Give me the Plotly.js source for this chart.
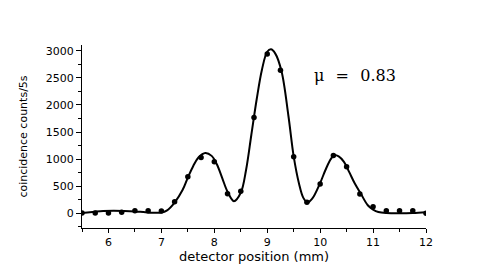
<!DOCTYPE html>
<html>
<head>
<meta charset="utf-8">
<script src="https://cdn.plot.ly/plotly-3.0.1.min.js"></script>
<style>html,body{margin:0;padding:0;background:#fff;}#chart{width:491px;height:273px;}</style>
</head>
<body>
<div id="chart"></div>
<script>
// Measured data points (detector position in mm, coincidence counts / 5s)
const positions = [5.5,5.75,6.0,6.25,6.5,6.75,7.0,7.25,7.5,7.75,8.0,8.25,8.5,8.75,9.0,9.25,9.5,9.75,10.0,10.25,10.5,10.75,11.0,11.25,11.5,11.75,12.0];
const counts = [5,5,5,20,50,50,45,215,675,1030,950,360,410,1770,2940,2640,1045,205,540,1065,860,355,120,50,50,50,0];

// Fitted curve
const fitX = [5.5,5.7,5.9,6.1,6.3,6.5,6.7,6.9,7.0,7.1,7.25,7.4,7.5,7.6,7.7,7.83,7.95,8.05,8.15,8.25,8.37,8.5,8.6,8.7,8.8,8.9,9.0,9.07,9.15,9.27,9.4,9.5,9.6,9.68,9.76,9.85,10.0,10.1,10.2,10.27,10.35,10.45,10.55,10.65,10.77,10.9,11.0,11.1,11.25,11.5,11.75,12.0];
const fitY = [5,25,45,50,45,35,20,10,15,50,200,430,660,870,1030,1115,1060,900,650,400,225,380,800,1450,2100,2650,2980,3025,2950,2620,1800,1050,550,290,200,270,560,800,1000,1075,1050,950,760,560,360,150,70,25,5,0,5,20];

const xTicks = [6,7,8,9,10,11,12];
const yTicks = [0,500,1000,1500,2000,2500,3000];
const annotationText = "\u03bc\u2002\u2009=\u2002\u20090.83";

const traces = [
  {x: fitX, y: fitY, mode: 'lines', line: {color: '#000', width: 2, shape: 'spline', smoothing: 1}, hoverinfo: 'skip'},
  {x: positions, y: counts, mode: 'markers', marker: {color: '#000', size: 5.5}}
];

const tickFont = {family: 'DejaVu Sans', size: 11, color: '#000'};
const layout = {
  width: 491, height: 273,
  margin: {l: 82, r: 65, t: 45, b: 45},
  paper_bgcolor: '#fff', plot_bgcolor: '#fff',
  showlegend: false,
  xaxis: {
    range: [5.5, 12], tickvals: xTicks, ticktext: xTicks.map(String),
    ticks: 'outside', ticklen: 4, tickwidth: 1, tickcolor: '#000',
    minor: {dtick: 0.5, tick0: 5.5, ticks: 'outside', ticklen: 3, tickcolor: '#000'},
    showline: true, linecolor: '#000', linewidth: 1, showgrid: false, zeroline: false,
    tickfont: tickFont,
    title: {text: 'detector position (mm)', font: {family: 'DejaVu Sans', size: 13, color: '#000'}, standoff: 0}
  },
  yaxis: {
    range: [-270, 3105], tickvals: yTicks, ticktext: yTicks.map(String),
    ticks: 'outside', ticklen: 5, tickwidth: 1, tickcolor: '#000',
    minor: {dtick: 250, tick0: 0, ticks: 'outside', ticklen: 3, tickcolor: '#000'},
    showline: true, linecolor: '#000', linewidth: 1, showgrid: false, zeroline: false,
    tickfont: tickFont,
    title: {text: 'coincidence counts/5s', font: {family: 'DejaVu Sans', size: 11, color: '#000'}, standoff: 15}
  },
  annotations: [{
    text: annotationText, xref: 'paper', yref: 'paper',
    x: 0.795, y: 0.835, xanchor: 'center', yanchor: 'middle', showarrow: false,
    font: {family: 'DejaVu Serif', size: 16, color: '#000'}
  }]
};

Plotly.newPlot('chart', traces, layout, {displayModeBar: false, staticPlot: true});
</script>
</body>
</html>
